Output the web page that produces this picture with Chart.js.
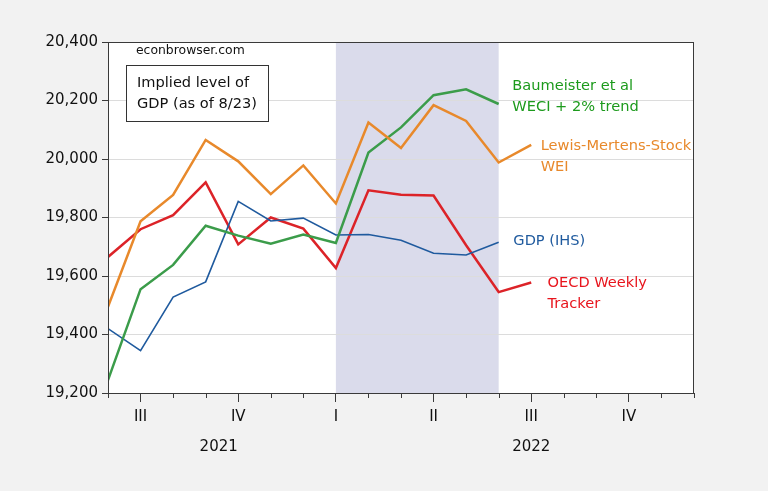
<!DOCTYPE html>
<html>
<head>
<meta charset="utf-8">
<script src="https://cdn.jsdelivr.net/npm/chart.js@4"></script>
<style>
  html, body { margin: 0; padding: 0; background: #f2f2f2; }
  #wrap { width: 768px; height: 491px; }
</style>
</head>
<body>
<div id="wrap"><canvas id="c" width="768" height="491"></canvas></div>
<script>
/* Implied level of GDP — monthly, Jun 2021 .. Dec 2022 */

const months = ['2021-06', '2021-07', '2021-08', '2021-09', '2021-10', '2021-11', '2021-12',
                '2022-01', '2022-02', '2022-03', '2022-04', '2022-05', '2022-06',
                '2022-07', '2022-08', '2022-09', '2022-10', '2022-11', '2022-12'];

const quarterLabels = { 1: 'III', 4: 'IV', 7: 'I', 10: 'II', 13: 'III', 16: 'IV' };
const yearLabels    = [['2021', 3.4], ['2022', 13]];
const yTicks        = [19200, 19400, 19600, 19800, 20000, 20200, 20400];

const gdpIHS = [19420, 19345, 19528, 19580, 19855, 19788, 19798, 19740, 19742, 19722, 19678, 19672, 19715];
const weci   = [19244, 19555, 19638, 19772, 19738, 19710, 19742, 19713, 20022, 20108, 20218, 20238, 20188];
const lms    = [19495, 19787, 19877, 20065, 19992, 19880, 19978, 19848, 20125, 20038, 20184, 20130, 19988, 20048];
const oecd   = [19665, 19760, 19808, 19920, 19708, 19800, 19762, 19627, 19893, 19878, 19875, 19705, 19545, 19578];

const shadeFrom = 7, shadeTo = 12;   // Jan 2022 .. Jun 2022

const FONT = "'DejaVu Sans', 'Liberation Sans', sans-serif";
const AXIS = '#3a3a3a';
const C = {
  blue:   '#1f5a9e',
  green:  '#3b9c4a',
  orange: '#e8892b',
  red:    '#dc2328',
  greenT: '#1c9a1c',
  redT:   '#e8141c',
};

const pts = arr => arr.map((v, i) => ({ x: i, y: v }));

/* series labels: [text, x index, y value, colour] */
const seriesNotes = [
  ['Baumeister et al',    12.42, 20249, C.greenT],
  ['WECI + 2% trend',     12.42, 20177, C.greenT],
  ['Lewis-Mertens-Stock', 13.29, 20044, C.orange],
  ['WEI',                 13.29, 19972, C.orange],
  ['GDP (IHS)',           12.45, 19719, C.blue],
  ['OECD Weekly',         13.50, 19576, C.redT],
  ['Tracker',             13.50, 19503, C.redT],
];

const decor = {
  id: 'decor',
  beforeDraw(chart) {
    const { ctx, chartArea: a, scales: { x } } = chart;
    ctx.save();
    ctx.fillStyle = '#ffffff';
    ctx.fillRect(a.left, a.top, a.right - a.left, a.bottom - a.top);
    ctx.fillStyle = '#dadbeb';
    const x0 = x.getPixelForValue(shadeFrom), x1 = x.getPixelForValue(shadeTo);
    ctx.fillRect(x0, a.top, x1 - x0, a.bottom - a.top);
    ctx.restore();
  },
  afterDatasetsDraw(chart) {
    const { ctx, chartArea: a, scales: { x, y } } = chart;
    ctx.save();
    // frame
    ctx.strokeStyle = AXIS;
    ctx.lineWidth = 1;
    ctx.strokeRect(a.left + 0.5, a.top + 0.5, a.right - a.left - 1, a.bottom - a.top);

    // minor month ticks
    ctx.beginPath();
    months.forEach((m, i) => {
      if (quarterLabels[i]) return;
      const px = Math.round(x.getPixelForValue(i)) + 0.5;
      ctx.moveTo(px, a.bottom);
      ctx.lineTo(px, a.bottom + 5);
    });
    ctx.stroke();

    // year labels
    ctx.fillStyle = '#111';
    ctx.font = '15px ' + FONT;
    ctx.textAlign = 'center';
    ctx.textBaseline = 'middle';
    yearLabels.forEach(([t, v]) => ctx.fillText(t, x.getPixelForValue(v), 447));

    // source + note box
    ctx.textAlign = 'left';
    ctx.font = '12.4px ' + FONT;
    ctx.fillText('econbrowser.com', a.left + 28, a.top + 9);
    ctx.fillStyle = '#ffffff';
    ctx.fillRect(a.left + 18, a.top + 23, 142, 56);
    ctx.strokeStyle = '#333';
    ctx.strokeRect(a.left + 18.5, a.top + 23.5, 142, 56);
    ctx.fillStyle = '#111';
    ctx.font = '14.6px ' + FONT;
    ctx.fillText('Implied level of', a.left + 29, a.top + 41);
    ctx.fillText('GDP (as of 8/23)', a.left + 29, a.top + 62);

    // series labels
    seriesNotes.forEach(([t, xv, yv, col]) => {
      ctx.fillStyle = col;
      ctx.fillText(t, x.getPixelForValue(xv), y.getPixelForValue(yv));
    });
    ctx.restore();
  },
};

const line = (label, data, color, width) => ({
  label, data: pts(data),
  borderColor: color, borderWidth: width,
  pointRadius: 0, tension: 0, fill: false,
});

new Chart(document.getElementById('c'), {
  type: 'line',
  data: {
    datasets: [
      line('Lewis-Mertens-Stock WEI', lms, C.orange, 2.5),
      line('Baumeister et al WECI + 2% trend', weci, C.green, 2.5),
      line('GDP (IHS)', gdpIHS, C.blue, 1.6),
      line('OECD Weekly Tracker', oecd, C.red, 2.5),
    ],
  },
  options: {
    responsive: false,
    animation: false,
    layout: { padding: { top: 42, right: 74, left: 0, bottom: 0 } },
    plugins: { legend: { display: false }, tooltip: { enabled: false } },
    scales: {
      x: {
        type: 'linear',
        min: 0, max: months.length - 1,
        afterFit: s => { s.height = 98; },
        afterBuildTicks: s => { s.ticks = months.map((m, i) => ({ value: i })); },
        border: { display: true, color: AXIS },
        grid: {
          display: true,
          drawOnChartArea: false,
          drawTicks: true,
          tickLength: 9,
          tickColor: ctx => quarterLabels[ctx.index] ? AXIS : 'rgba(0,0,0,0)',
        },
        ticks: {
          autoSkip: false,
          maxRotation: 0,
          padding: 6,
          color: '#111',
          font: { family: FONT, size: 15 },
          callback: (v, i) => quarterLabels[i] || '',
        },
      },
      y: {
        min: 19200, max: 20400,
        afterFit: s => { s.width = 108; },
        afterBuildTicks: s => { s.ticks = yTicks.map(v => ({ value: v })); },
        border: { display: true, color: AXIS },
        grid: { color: '#dcdcdc', tickColor: AXIS, tickLength: 6 },
        ticks: {
          padding: 4,
          color: '#111',
          font: { family: FONT, size: 15 },
          callback: v => v.toLocaleString('en-US'),
        },
      },
    },
  },
  plugins: [decor],
});
</script>
</body>
</html>
